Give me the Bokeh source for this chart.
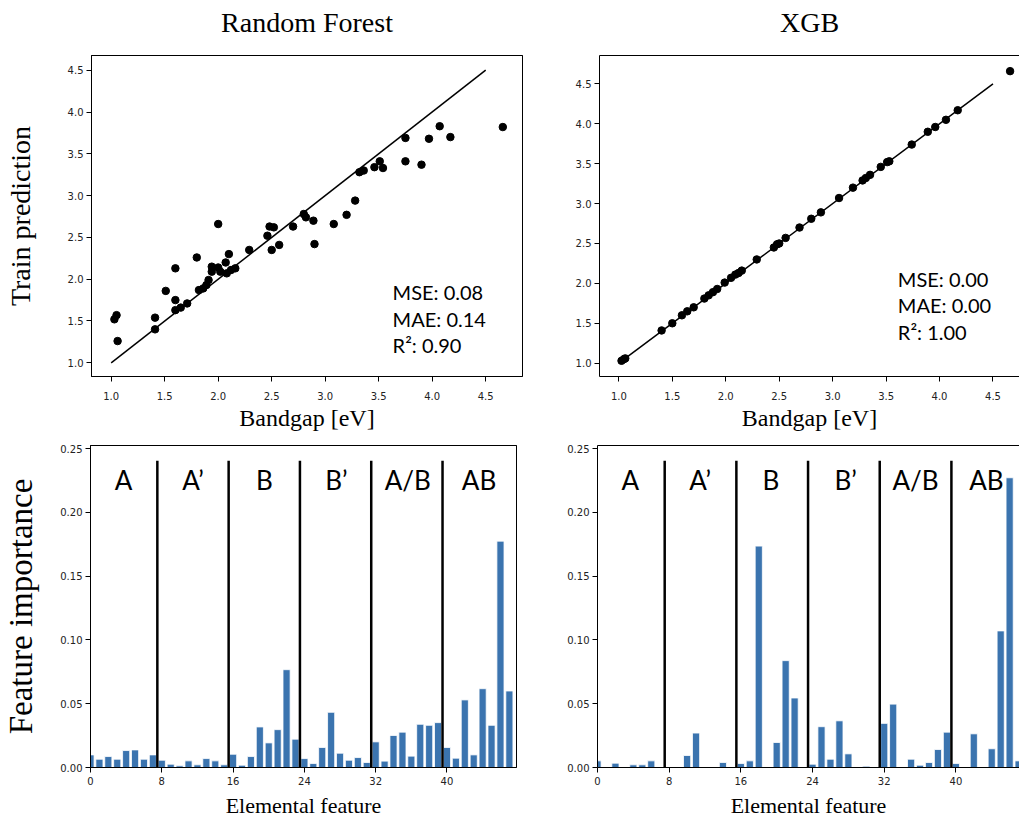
from bokeh.plotting import figure
from bokeh.layouts import column, row
from bokeh.models import FixedTicker, NumeralTickFormatter, Range1d, LinearAxis, ColumnDataSource
from bokeh.core.properties import value
from bokeh.embed import file_html
from bokeh.resources import INLINE

# ---------------- data ----------------
bandgap = [1.03, 1.05, 1.06, 1.41, 1.41, 1.51, 1.60, 1.60, 1.60, 1.65,
           1.71, 1.80, 1.82, 1.86, 1.89, 1.91, 1.94, 1.94, 2.00, 2.00,
           2.02, 2.07, 2.08, 2.10, 2.12, 2.16, 2.29, 2.46, 2.48, 2.52,
           2.50, 2.57, 2.70, 2.80, 2.82, 2.89, 2.90, 3.08, 3.20, 3.28,
           3.32, 3.36, 3.46, 3.51, 3.54, 3.75, 3.75, 3.90, 3.97, 4.07,
           4.17, 4.66]
rf_pred = [1.52, 1.57, 1.26, 1.54, 1.40, 1.86, 2.13, 1.75, 1.63, 1.66,
           1.71, 2.26, 1.87, 1.89, 1.93, 1.99, 2.15, 2.09, 2.66, 2.14,
           2.09, 2.20, 2.07, 2.30, 2.11, 2.13, 2.35, 2.52, 2.63, 2.62,
           2.35, 2.41, 2.63, 2.78, 2.74, 2.70, 2.42, 2.66, 2.77, 2.94,
           3.28, 3.30, 3.34, 3.41, 3.33, 3.69, 3.41, 3.37, 3.68, 3.83,
           3.70, 3.82]

xgb_bandgap = [1.025, 1.047, 1.06, 1.40, 1.50, 1.59, 1.64, 1.70, 1.80, 1.84,
               1.88, 1.92, 1.99, 2.05, 2.09, 2.12, 2.15, 2.29, 2.45, 2.48,
               2.50, 2.56, 2.69, 2.80, 2.89, 3.06, 3.19, 3.28, 3.31, 3.35,
               3.45, 3.51, 3.53, 3.74, 3.89, 3.96, 4.06, 4.17, 4.66]
xgb_pred = [1.03, 1.05, 1.06, 1.41, 1.50, 1.60, 1.65, 1.70, 1.81, 1.85,
            1.89, 1.93, 2.01, 2.07, 2.11, 2.13, 2.16, 2.30, 2.45, 2.49,
            2.50, 2.57, 2.70, 2.81, 2.89, 3.07, 3.20, 3.29, 3.32, 3.36,
            3.46, 3.52, 3.53, 3.74, 3.90, 3.96, 4.05, 4.17, 4.66]

parity_line = [1.0, 4.5]

rf_metrics = ["MSE: 0.08", "MAE: 0.14", "R\u00b2: 0.90"]
xgb_metrics = ["MSE: 0.00", "MAE: 0.00", "R\u00b2: 1.00"]

feature_index = list(range(48))
rf_importance = [0.0099, 0.0065, 0.0086, 0.0065, 0.0133, 0.0138, 0.0065, 0.0099,
                 0.0057, 0.0026, 0.0013, 0.0052, 0.0021, 0.0070, 0.0052, 0.0021,
                 0.0104, 0.0018, 0.0086, 0.0318, 0.0193, 0.0297, 0.0767, 0.0222,
                 0.0070, 0.0031, 0.0157, 0.0433, 0.0112, 0.0057, 0.0078, 0.0039,
                 0.0201, 0.0050, 0.0251, 0.0277, 0.0089, 0.0339, 0.0331, 0.0352,
                 0.0157, 0.0073, 0.0530, 0.0099, 0.0618, 0.0331, 0.1775, 0.0600]
xgb_importance = [0.0052, 0.0, 0.0034, 0.0, 0.0021, 0.0021, 0.0052, 0.0,
                  0.0, 0.0, 0.0094, 0.0270, 0.0, 0.0, 0.0039, 0.0,
                  0.0031, 0.0052, 0.1736, 0.0, 0.0196, 0.0838, 0.0545, 0.0,
                  0.0026, 0.0320, 0.0065, 0.0366, 0.0107, 0.0, 0.0010, 0.0,
                  0.0346, 0.0497, 0.0, 0.0065, 0.0018, 0.0039, 0.0141, 0.0277,
                  0.0031, 0.0, 0.0264, 0.0, 0.0147, 0.1071, 0.2272, 0.0052]

group_labels = ["A", "A\u2019", "B", "B\u2019", "A/B", "AB"]
group_bounds = [7.5, 15.5, 23.5, 31.5, 39.5]

scatter_ticks = [1.0, 1.5, 2.0, 2.5, 3.0, 3.5, 4.0, 4.5]
importance_ticks = [0.0, 0.05, 0.10, 0.15, 0.20, 0.25]
feature_ticks = [0, 8, 16, 24, 32, 40]

# ---------------- styling helpers ----------------
SERIF = "Liberation Serif"
TICK_FONT = "DejaVu Sans"
TEXT_FONT = "Lato"
BAR_COLOR = "#3b74af"


def style_axis(ax):
    ax.major_tick_out = 5
    ax.major_tick_in = 0
    ax.minor_tick_out = 0
    ax.minor_tick_in = 0
    ax.axis_line_color = "black"
    ax.axis_line_width = 1
    ax.major_tick_line_color = "black"
    ax.major_label_text_font = TICK_FONT
    ax.major_label_text_font_size = "10px"
    ax.major_label_text_color = "#222222"
    ax.major_label_standoff = 3
    ax.axis_label_text_font = SERIF
    ax.axis_label_text_font_style = "normal"
    ax.axis_label_text_color = "black"


def make_fig(width, height, xr, yr, bl, br, bt, bb, boxed=True, title=None):
    p = figure(width=width, height=height, x_range=Range1d(*xr), y_range=Range1d(*yr),
               output_backend="svg", toolbar_location=None,
               min_border_left=bl, min_border_right=br,
               min_border_top=bt, min_border_bottom=bb)
    p.grid.visible = False
    p.background_fill_color = "white"
    p.border_fill_color = "white"
    xb = p.below[0]
    yl = p.left[0]
    style_axis(xb)
    style_axis(yl)
    if boxed:
        p.outline_line_color = "black"
        p.outline_line_width = 1
        p.outline_line_alpha = 1
    else:
        p.outline_line_color = None
    # top border line (and title text) drawn by a label-less axis above the frame
    top_ax = LinearAxis(major_tick_out=0, major_tick_in=0, minor_tick_out=0,
                        minor_tick_in=0, major_label_text_font_size="0px",
                        major_label_standoff=0, axis_line_color="black",
                        ticker=FixedTicker(ticks=[]))
    if title:
        top_ax.axis_label = title
        top_ax.axis_label_text_font = SERIF
        top_ax.axis_label_text_font_size = "28px"
        top_ax.axis_label_text_font_style = "normal"
        top_ax.axis_label_text_color = "black"
        top_ax.axis_label_standoff = 18
    p.add_layout(top_ax, "above")
    return p, xb, yl


def scatter_panel(p, xb, yl, xs, ys, metrics, mx, my):
    p.line(parity_line, parity_line, line_color="black", line_width=1.5)
    p.scatter(xs, ys, size=7.5, fill_color="black", line_color="black")
    src = ColumnDataSource(dict(x=[mx] * 3, y=my, t=metrics))
    p.text(x="x", y="y", text="t", source=src, text_font=value(TEXT_FONT),
           text_font_size="20px", text_align="left", text_baseline="middle",
           text_color="black")
    xb.ticker = FixedTicker(ticks=scatter_ticks)
    yl.ticker = FixedTicker(ticks=scatter_ticks)
    xb.formatter = NumeralTickFormatter(format="0.0")
    yl.formatter = NumeralTickFormatter(format="0.0")
    xb.major_label_standoff = 10
    xb.axis_label = "Bandgap [eV]"
    xb.axis_label_text_font_size = "24px"
    xb.axis_label_standoff = 2


def bar_panel(p, xb, yl, values, label_x):
    p.vbar(x=feature_index, top=values, width=0.8, bottom=0,
           fill_color=BAR_COLOR, line_color="white", line_width=0.8)
    p.segment(x0=group_bounds, y0=[0] * 5, x1=group_bounds, y1=[0.2405] * 5,
              line_color="black", line_width=2.5)
    src = ColumnDataSource(dict(x=label_x, y=[0.2252] * 6, t=group_labels))
    p.text(x="x", y="y", text="t", source=src, text_font=value(TEXT_FONT),
           text_font_size="26px", text_align="center", text_baseline="alphabetic",
           text_color="black")
    xb.ticker = FixedTicker(ticks=feature_ticks)
    yl.ticker = FixedTicker(ticks=importance_ticks)
    yl.formatter = NumeralTickFormatter(format="0.00")
    xb.axis_label = "Elemental feature"
    xb.axis_label_text_font_size = "22px"
    xb.axis_label_standoff = 5
    xb.major_label_standoff = 4


# ---------------- top row ----------------
tl, tl_x, tl_y = make_fig(549, 434, (0.816, 4.844), (0.836, 4.676), 91, 27, 55, 58,
                          title="Random Forest")
scatter_panel(tl, tl_x, tl_y, bandgap, rf_pred, rf_metrics, 3.63, [1.845, 1.527, 1.21])
tl_y.axis_label = "Train prediction"
tl_y.axis_label_text_font_size = "28px"
tl_y.axis_label_standoff = 29

tr, tr_x, tr_y = make_fig(470, 434, (0.819, 4.748), (0.833, 4.856), 50, 0, 55, 58,
                          boxed=False, title="XGB")
scatter_panel(tr, tr_x, tr_y, xgb_bandgap, xgb_pred, xgb_metrics, 3.61, [2.049, 1.723, 1.388])

# ---------------- bottom row ----------------
bl, bl_x, bl_y = make_fig(545, 386, (0, 47.8), (0, 0.2525), 89, 29, 11, 53)
bar_panel(bl, bl_x, bl_y, rf_importance, [3.7, 11.5, 19.5, 27.6, 35.6, 43.6])
bl_y.axis_label = "Feature importance"
bl_y.axis_label_text_font_size = "33px"
bl_y.axis_label_standoff = 18

br, br_x, br_y = make_fig(474, 386, (0, 47.1), (0, 0.2525), 52, 0, 11, 53, boxed=False)
bar_panel(br, br_x, br_y, xgb_importance, [3.65, 11.45, 19.35, 27.7, 35.5, 43.4])

layout = column(row(tl, tr), row(bl, br))
open("out.html", "w").write(file_html(layout, INLINE))
